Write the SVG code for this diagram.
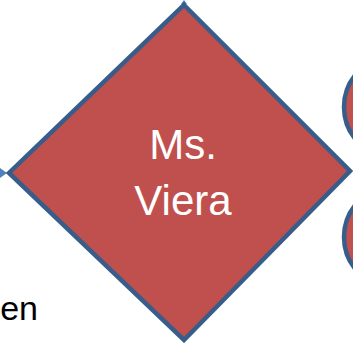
<svg xmlns="http://www.w3.org/2000/svg" width="353" height="343" viewBox="0 0 353 343">
<style>
.shape{fill:#C0504D;stroke:#385D8A;stroke-width:4.5}
.lbl{font-family:"Liberation Sans",Arial,sans-serif;font-size:42px;fill:#FFFFFF;text-anchor:middle}
.txt{font-family:"Liberation Sans",Arial,sans-serif;font-size:34px;fill:#000000}
.end{fill:#4F81BD}
</style>
<rect width="353" height="343" fill="#FFFFFF"/>
<g id="connectors">
<path class="end" d="M181,4 L184,0 L187,4 Z"/>
<path class="end" d="M0,168 L7,173 L0,178 Z"/>
</g>
<g id="node-top-right">
<circle class="shape" cx="395" cy="107" r="51"/>
</g>
<g id="node-bottom-right">
<circle class="shape" cx="395" cy="237" r="51"/>
</g>
<g id="node-viera">
<polygon class="shape" points="184,5 350,171 184,340 9,173"/>
<text class="lbl" x="183" y="159">Ms.</text>
<text class="lbl" x="183" y="215">Viera</text>
</g>
<text class="txt" x="38" y="320" text-anchor="end">en</text>
</svg>
